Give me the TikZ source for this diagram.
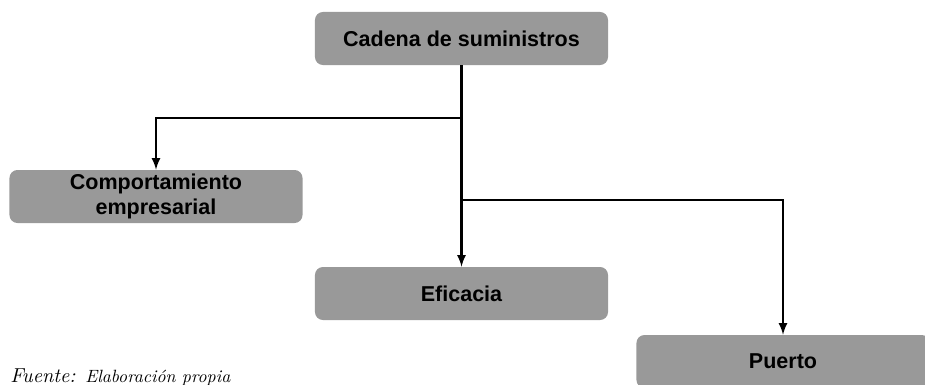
\documentclass[tikz,border=0pt]{standalone}
\usepackage{fontspec}
\setsansfont{Liberation Sans}
\newfontfamily\fuentefont{lmroman10-italic.otf}
\usetikzlibrary{positioning,arrows}

\begin{document}
\begin{tikzpicture}[x=0.025cm,y=-0.025cm]
			\tikzstyle{box}=[draw=none,fill=black!40,rounded corners=0.2cm,minimum width=7.325cm,minimum height=1.325cm,inner sep=0pt,align=center,font=\sffamily\bfseries\fontsize{15.3}{17.5}\selectfont]
			\tikzstyle{link}=[black,line width=1.8pt,-latex]
			\useasboundingbox (0,0) rectangle (925,384);
			\node [box] (cadena) at (461.5,38.5) {Cadena de suministros};
			\node [box] (comp) at (156,196.5) {Comportamiento\\empresarial};
			\node [box] (eficacia) at (461.5,293.5) {Eficacia};
			\node [box] (puerto) at (783,361.5) {Puerto};
			\coordinate (j1) at (461.5,118);
			\coordinate (j2) at (461.5,200);
			\draw [link] (cadena.south) -- (eficacia.north);
			\draw [link] (j1) -| (comp.north);
			\draw [link] (j2) -| (puerto.north);
			\node [anchor=base west,inner sep=0pt] (fuente) at (10,382) {\resizebox{5.5cm}{!}{\fuentefont\fontsize{14}{16}\selectfont Fuente: \fontsize{12.3}{14}\selectfont Elaboración propia}};
\end{tikzpicture}
\end{document}
